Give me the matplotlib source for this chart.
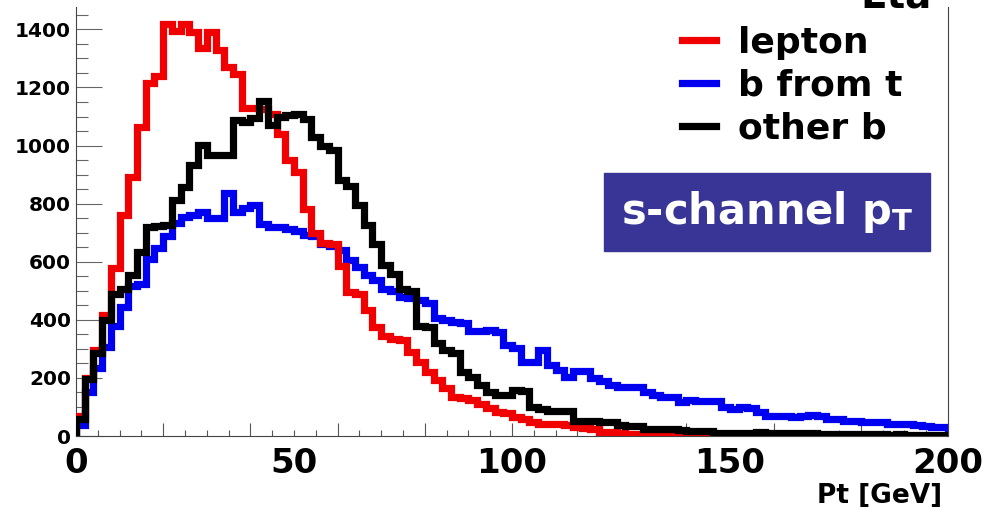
import numpy as np
import matplotlib.pyplot as plt
from matplotlib.lines import Line2D
from matplotlib.patches import Rectangle

# === Histogram binning (100 bins of 2 GeV) ===
pt_min, pt_max, n_bins = 0, 200, 100

# === Bin contents ===
lepton = [70, 200, 295, 415, 580, 760, 890, 1065, 1215, 1240,
          1420, 1395, 1418, 1390, 1335, 1390, 1330, 1270, 1245, 1130,
          1130, 1125, 1110, 1040, 950, 910, 780, 700, 665, 660,
          585, 495, 490, 435, 375, 345, 335, 330, 290, 255,
          220, 193, 165, 134, 130, 124, 110, 96, 83, 79,
          65, 58, 48, 41, 40, 40, 37, 30, 29, 24,
          15, 13, 9, 7, 6, 5, 4, 4, 3, 3,
          3, 2, 2, 2, 2, 1, 1, 1, 1, 1,
          1, 1, 0, 1, 0, 0, 1, 0, 0, 0,
          0, 0, 0, 0, 0, 0, 0, 0, 0, 0]

b_from_t = [38, 150, 235, 305, 380, 445, 515, 525, 608, 646,
            688, 732, 755, 761, 770, 750, 750, 835, 770, 785,
            795, 730, 720, 718, 712, 705, 692, 688, 660, 655,
            640, 605, 583, 554, 537, 505, 500, 478, 476, 468,
            457, 405, 400, 394, 388, 363, 363, 365, 359, 313,
            302, 256, 256, 296, 245, 227, 202, 225, 225, 198,
            190, 175, 170, 170, 168, 152, 141, 135, 135, 118,
            124, 122, 122, 120, 100, 92, 100, 98, 84, 70,
            70, 70, 64, 70, 72, 70, 58, 58, 53, 53,
            47, 47, 47, 41, 41, 40, 38, 36, 32, 32]

other_b = [60, 195, 285, 400, 490, 505, 554, 635, 720, 723,
           725, 812, 858, 933, 1002, 967, 967, 967, 1088, 1080,
           1095, 1155, 1070, 1100, 1105, 1110, 1090, 1030, 1000, 985,
           880, 860, 795, 726, 660, 590, 557, 505, 500, 379,
           376, 319, 296, 285, 221, 204, 176, 153, 141, 141,
           158, 155, 101, 92, 87, 86, 85, 52, 50, 50,
           48, 47, 38, 36, 35, 25, 24, 24, 23, 19,
           18, 18, 17, 12, 11, 10, 10, 12, 13, 12,
           10, 9, 10, 12, 9, 8, 8, 7, 8, 7,
           6, 7, 6, 5, 6, 5, 5, 4, 5, 4]

labels = ['lepton', 'b from t', 'other b']
colors = ['#f00000', '#0000f0', 'black']
x_label_vals = [0, 50, 100, 150, 200]

plt.rcParams['font.family'] = ['DejaVu Sans']
plt.rcParams['font.weight'] = 'bold'

edges = np.linspace(pt_min, pt_max, n_bins + 1)

fig = plt.figure(figsize=(9.92, 5.07), dpi=100)
ax = fig.add_axes([76 / 992, 71 / 507, 872 / 992, 429 / 507])

lw = 5.2
ax.stairs(b_from_t, edges, color=colors[1], linewidth=lw, zorder=2)
ax.stairs(lepton, edges, color=colors[0], linewidth=lw, zorder=3)
ax.stairs(other_b, edges, color=colors[2], linewidth=lw, zorder=4)

ax.set_xlim(pt_min, pt_max)
ax.set_ylim(0, 1477)

# --- axes frame and ticks (ROOT style) ---
ax.spines['top'].set_visible(False)
for s in ['left', 'right', 'bottom']:
    ax.spines[s].set_color('#444444')
    ax.spines[s].set_linewidth(0.8)

ax.set_yticks(np.arange(0, 1401, 200))
ax.set_yticks(np.arange(0, 1451, 50), minor=True)
ax.set_xticks(np.arange(0, 201, 20))
ax.set_xticks(np.arange(0, 201, 5), minor=True)
ax.set_xticklabels([])
ax.tick_params(axis='y', which='major', direction='in', length=18.7, width=0.8,
               color='#666666', labelsize=14.5, pad=3.6)
ax.tick_params(axis='y', which='minor', direction='in', length=8.6, width=0.8,
               color='#666666')
ax.tick_params(axis='x', which='major', direction='in', length=9.4, width=0.8,
               color='#555555')
ax.tick_params(axis='x', which='minor', direction='in', length=4.3, width=0.8,
               color='#555555')

sec = ax.secondary_xaxis('bottom')
sec.set_xticks(x_label_vals, labels=[str(v) for v in x_label_vals])
sec.tick_params(length=0, pad=8, labelsize=24.5)
sec.spines['bottom'].set_visible(False)

# --- legend ---
handles = [Line2D([], [], color=c, linewidth=lw) for c in colors]
ax.legend(handles, labels, loc='upper left',
          bbox_to_anchor=(682 / 992, 1 - 26 / 507), bbox_transform=fig.transFigure,
          frameon=False, borderpad=0, borderaxespad=0, handlelength=0.95,
          handletextpad=0.6, labelspacing=0.24,
          prop={'size': 26, 'weight': 'bold'})

# --- labels and title box ---
fig.text(932 / 992, 500 / 507, 'Eta', ha='right', va='baseline', fontsize=28)
fig.text(942 / 992, 0.008, 'Pt [GeV]', ha='right', va='baseline', fontsize=19)

fig.patches.append(Rectangle((604 / 992, 256 / 507), 326 / 992, 78 / 507,
                             transform=fig.transFigure, color='#383596', zorder=5))
fig.text(767 / 992, 0.582, r's-channel p$_{\mathbf{T}}$', ha='center', va='center',
         fontsize=30, color='white', zorder=6)

fig.savefig('out.png', dpi=100)
